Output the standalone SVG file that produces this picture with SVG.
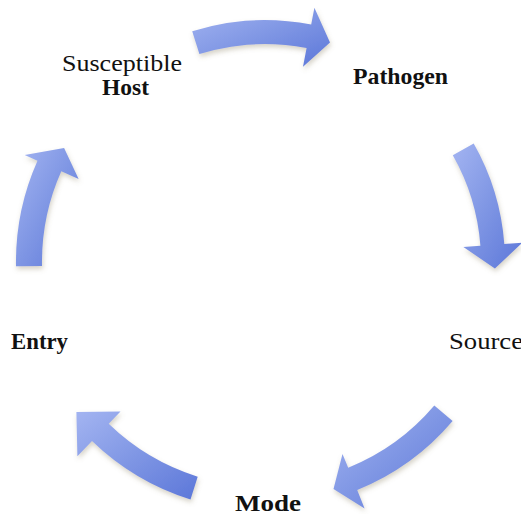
<svg xmlns="http://www.w3.org/2000/svg" width="521" height="514" viewBox="0 0 521 514">
<defs>
<linearGradient id="arrowFill" x1="0" y1="0" x2="1" y2="1">
<stop offset="0" stop-color="#a3b4f1"/>
<stop offset="0.5" stop-color="#7f96e4"/>
<stop offset="1" stop-color="#5c77d9"/>
</linearGradient>
<filter id="shadow" x="-20%" y="-20%" width="140%" height="140%">
<feGaussianBlur in="SourceAlpha" stdDeviation="2.5"/>
<feOffset dx="1" dy="3" result="b"/>
<feFlood flood-color="#8a8060" flood-opacity="0.35"/>
<feComposite in2="b" operator="in"/>
<feMerge><feMergeNode/><feMergeNode in="SourceGraphic"/></feMerge>
</filter>
<style>
.arrow{fill:url(#arrowFill);filter:url(#shadow);}
.lbl{font-family:"Liberation Serif","DejaVu Serif",serif;font-size:23.5px;fill:#111;}
.b{font-weight:bold;}
</style>
</defs>
<rect width="521" height="514" fill="#ffffff"/>
<g id="connectors">
<path class="arrow" d="M192.2,31.2 A242,242 0 0 1 311.2,24.5 L314.4,7.8 L330,42.4 L303,66.7 L306.6,48 A218,218 0 0 0 199.4,54.1 Z"/>
<path class="arrow" d="M473.7,143.5 A240,240 0 0 1 504.3,244 L522.3,242.7 L494.9,268.4 L463.4,247.1 L480.4,245.8 A216,216 0 0 0 452.8,155.3 Z"/>
<path class="arrow" d="M452.6,421.1 A246,246 0 0 1 357.2,490.1 L364.6,508.6 L333.5,488.9 L342.5,453.9 L348.2,467.8 A222,222 0 0 0 434.3,405.6 Z"/>
<path class="arrow" d="M190.5,499.6 A249,249 0 0 1 92,441.1 L77.4,456.2 L76.4,412 L120.5,411.6 L108.7,423.8 A225,225 0 0 0 197.7,476.7 Z"/>
<path class="arrow" d="M16,266.3 A249,249 0 0 1 37.5,160.7 L24.7,155 L64.1,147.9 L78.6,179 L61.3,171.3 A223,223 0 0 0 42,265.9 Z"/>
</g>
<g id="node-host">
<text class="lbl" x="62" y="71" textLength="120" lengthAdjust="spacingAndGlyphs">Susceptible</text>
<text class="lbl b" x="102" y="95" textLength="47" lengthAdjust="spacingAndGlyphs">Host</text>
</g>
<g id="node-pathogen">
<text class="lbl b" x="353" y="83.5" textLength="95" lengthAdjust="spacingAndGlyphs">Pathogen</text>
</g>
<g id="node-source">
<text class="lbl" x="449" y="348.5" textLength="74" lengthAdjust="spacingAndGlyphs">Source</text>
</g>
<g id="node-mode">
<text class="lbl b" x="235" y="510.5" textLength="66" lengthAdjust="spacingAndGlyphs">Mode</text>
</g>
<g id="node-entry">
<text class="lbl b" x="11" y="349" textLength="57" lengthAdjust="spacingAndGlyphs">Entry</text>
</g>
</svg>
